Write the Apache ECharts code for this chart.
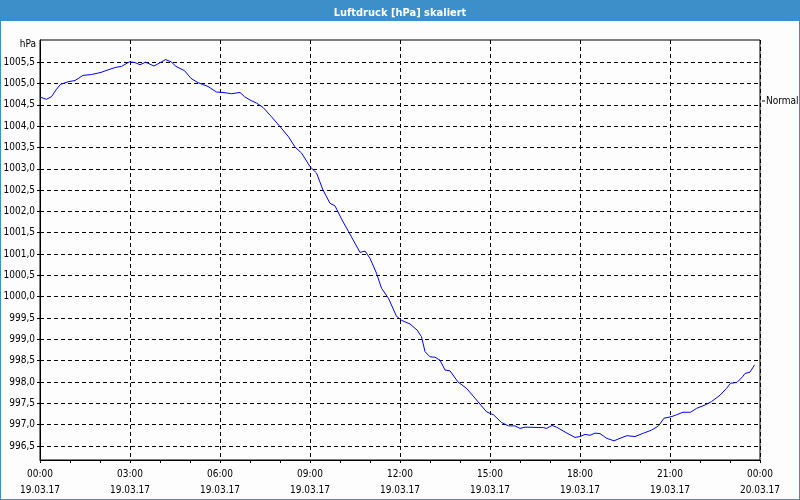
<!DOCTYPE html>
<html>
<head>
<meta charset="utf-8">
<script src="https://cdn.jsdelivr.net/npm/echarts@6/dist/echarts.min.js"></script>
<style>
html,body{margin:0;padding:0;background:#fcfdfc;}
#frame{position:absolute;left:0;top:0;width:798px;height:499px;border-left:1px solid #3c8fc8;border-right:1px solid #3c8fc8;border-bottom:1px solid #3c8fc8;background:#fcfdfc;}
#chart{position:absolute;left:0;top:0;width:800px;height:500px;}
</style>
</head>
<body>
<div id="frame"></div>
<div id="chart"></div>
<script>
var titleText = 'Luftdruck [hPa] skaliert';
var seriesName = 'Normal';
var yUnit = 'hPa';
var yTicks = [996.5, 997.0, 997.5, 998.0, 998.5, 999.0, 999.5, 1000.0, 1000.5, 1001.0, 1001.5, 1002.0, 1002.5, 1003.0, 1003.5, 1004.0, 1004.5, 1005.0, 1005.5];
var xTimeLabels = ['00:00', '03:00', '06:00', '09:00', '12:00', '15:00', '18:00', '21:00', '00:00'];
var xDateLabels = ['19.03.17', '19.03.17', '19.03.17', '19.03.17', '19.03.17', '19.03.17', '19.03.17', '19.03.17', '20.03.17'];

var times = ['00:00','00:13','00:23','00:32','00:41','00:56','01:10','01:26','01:43','02:02','02:16','02:32','02:43','02:59','03:10','03:20','03:31','03:48','03:59','04:11','04:22','04:32','04:49','05:02','05:16','05:36','05:53','06:06','06:23','06:40','06:49','07:02','07:13','07:26','07:43','08:00','08:17','08:30','08:43','09:00','09:13','09:26','09:40','09:50','10:04','10:17','10:30','10:40','10:50','11:00','11:13','11:23','11:37','11:53','12:04','12:20','12:34','12:43','12:50','13:00','13:10','13:20','13:30','13:40','13:56','14:13','14:30','14:43','14:53','15:07','15:23','15:37','15:50','16:00','16:10','16:47','16:53','17:04','17:13','17:34','17:50','18:00','18:10','18:20','18:30','18:40','18:53','19:08','19:20','19:34','19:50','20:07','20:23','20:37','20:48','21:04','21:13','21:26','21:41','21:53','22:10','22:23','22:40','22:53','23:01','23:14','23:25','23:30','23:40','23:49'];
var pressure = [1004.68,1004.63,1004.69,1004.85,1004.98,1005.04,1005.07,1005.19,1005.21,1005.26,1005.32,1005.38,1005.40,1005.51,1005.49,1005.44,1005.50,1005.41,1005.48,1005.56,1005.51,1005.40,1005.30,1005.12,1005.02,1004.93,1004.80,1004.79,1004.76,1004.79,1004.69,1004.60,1004.54,1004.44,1004.22,1003.99,1003.75,1003.51,1003.37,1003.05,1002.90,1002.50,1002.19,1002.13,1001.80,1001.53,1001.25,1001.04,1001.07,1000.90,1000.55,1000.20,999.96,999.54,999.44,999.36,999.22,999.06,998.71,998.59,998.58,998.51,998.28,998.26,998.00,997.85,997.62,997.44,997.30,997.23,997.05,996.97,996.97,996.91,996.94,996.93,996.91,996.98,996.94,996.80,996.70,996.72,996.77,996.75,996.80,996.79,996.68,996.62,996.68,996.74,996.72,996.80,996.87,996.97,997.15,997.19,997.23,997.29,997.29,997.38,997.46,997.54,997.69,997.85,997.97,997.99,998.12,998.20,998.23,998.40];

function toHours(s){ var p = s.split(':'); return (+p[0]) + (+p[1]) / 60; }
var data = times.map(function(t, i){ return [toHours(t), pressure[i]]; });

var FONT = "'DejaVu Sans Condensed', 'Liberation Sans', sans-serif";
var chart = echarts.init(document.getElementById('chart'), null, {renderer: 'canvas'});
chart.setOption({
  backgroundColor: 'transparent',
  animation: false,
  title: {
    text: titleText, left: 'center', top: 3,
    textStyle: {color: '#ffffff', fontSize: 11, fontWeight: 'bold', fontFamily: FONT}
  },
  graphic: [
    {type: 'rect', z: -10, shape: {x: 0, y: 0, width: 800, height: 21}, style: {fill: '#3c8fc8'}},
    {type: 'text', x: 36, y: 44, style: {text: yUnit, fill: '#000', font: '10px ' + FONT, align: 'right', verticalAlign: 'middle'}}
  ],
  legend: {
    show: true, orient: 'vertical', left: 762, top: 96,
    data: [{name: seriesName, icon: 'rect', itemStyle: {color: '#000'}}],
    itemWidth: 3, itemHeight: 1, padding: 0,
    textStyle: {color: '#000', fontSize: 10, fontFamily: FONT, padding: [0, 0, 0, -4]}
  },
  grid: {left: 40, top: 40, right: 40, bottom: 40, show: true, borderColor: '#000', borderWidth: 1, backgroundColor: 'transparent'},
  xAxis: {
    type: 'value', min: 0, max: 24, interval: 3,
    axisLine: {show: true, lineStyle: {color: '#000', width: 1}},
    axisTick: {show: true, length: 3, lineStyle: {color: '#000'}},
    minorTick: {show: true, splitNumber: 3, length: 3, lineStyle: {color: '#000'}},
    splitLine: {show: true, lineStyle: {color: '#000', type: [4, 3], width: 1}},
    axisLabel: {
      margin: 6, color: '#000', fontSize: 10, fontFamily: FONT, lineHeight: 16,
      formatter: function(v){ var i = Math.round(v / 3); return xTimeLabels[i] + '\n' + xDateLabels[i]; }
    }
  },
  yAxis: {
    type: 'value', min: 996.17, max: 1006.02,
    axisLine: {show: true, lineStyle: {color: '#000', width: 1}},
    axisTick: {show: true, length: 3, customValues: yTicks, lineStyle: {color: '#000'}},
    splitLine: {show: true, lineStyle: {color: '#000', type: [4, 3], width: 1}},
    axisLabel: {
      customValues: yTicks, margin: 5, color: '#000', fontSize: 10, fontFamily: FONT,
      formatter: function(v){ return v.toFixed(1).replace('.', ','); }
    }
  },
  series: [{
    name: seriesName, type: 'line', data: data, showSymbol: false, symbol: 'none',
    lineStyle: {color: '#0000ff', width: 1}, itemStyle: {color: '#0000ff'}
  }]
});
</script>
</body>
</html>
